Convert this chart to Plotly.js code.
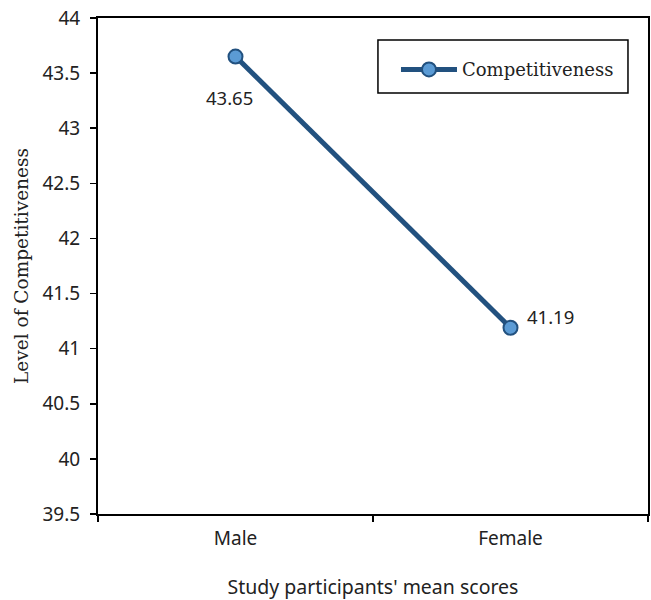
<!DOCTYPE html>
<html><head><meta charset="utf-8">
<script src="https://cdn.plot.ly/plotly-3.0.1.min.js"></script>
<style>html,body{margin:0;padding:0;background:#fff;}</style>
</head><body>
<div id="chart" style="width:651px;height:600px;"></div>
<script>
const categories = ["Male", "Female"];
const values = [43.65, 41.19];
const seriesName = "Competitiveness";
const labels = ["43.65", "41.19"];

const lineColor = "#22517f";
const markerFill = "#5b9bd5";
const serif = "'DejaVu Serif', 'Liberation Serif', serif";
const sans = "'Noto Sans', 'Open Sans', sans-serif";

const trace = {
  x: categories, y: values, name: seriesName, type: "scatter", mode: "lines+markers",
  line: {color: lineColor, width: 5},
  marker: {size: 14, color: markerFill, line: {color: lineColor, width: 2}},
  showlegend: true
};

const annotations = [
  {x: categories[0], y: values[0], text: labels[0], showarrow: false, xshift: -6, yshift: -41, font: {family: sans, size: 18.5, color: "#222"}},
  {x: categories[1], y: values[1], text: labels[1], showarrow: false, xanchor: "left", xshift: 14, yshift: 11, font: {family: sans, size: 18.5, color: "#222"}}
];

const layout = {
  width: 651, height: 600,
  margin: {l: 98, r: 3, t: 18, b: 86},
  paper_bgcolor: "#fff", plot_bgcolor: "#fff",
  showlegend: true,
  legend: {x: 0.5418, y: 0.933, xanchor: "left", yanchor: "top", borderwidth: 0,
           bgcolor: "rgba(0,0,0,0)", font: {family: serif, size: 18, color: "#222"}, itemwidth: 56,
           tracegroupgap: 0},
  shapes: [
    {type: "rect", xref: "paper", yref: "paper", x0: 0.509, x1: 0.9636, y0: 0.8488, y1: 0.9556,
     line: {color: "#000", width: 1.5}, fillcolor: "rgba(0,0,0,0)", layer: "below"}
  ],
  xaxis: {type: "category", range: [-0.5, 1.5], showline: true, linecolor: "#000", linewidth: 2, mirror: true,
          ticks: "outside", tickson: "boundaries", ticklen: 6, tickcolor: "#000", tickwidth: 1.5,
          ticklabelstandoff: 6,
          showgrid: false, zeroline: false, tickfont: {family: sans, size: 19, color: "#222"},
          title: {text: "Study participants' mean scores", font: {family: sans, size: 19.5, color: "#222"}, standoff: 34}},
  yaxis: {range: [39.5, 44], dtick: 0.5, tick0: 39.5, showline: true, linecolor: "#000", linewidth: 2, mirror: true,
          ticks: "outside", ticklen: 6, tickcolor: "#000", tickwidth: 1.5, showgrid: false, zeroline: false,
          ticklabelstandoff: 6,
          tickfont: {family: sans, size: 19, color: "#222"},
          title: {text: "Level of Competitiveness", font: {family: serif, size: 18.5, color: "#222"}, standoff: 9}},
  annotations: annotations
};

Plotly.newPlot("chart", [trace], layout, {displayModeBar: false, staticPlot: true});
</script>
</body></html>
